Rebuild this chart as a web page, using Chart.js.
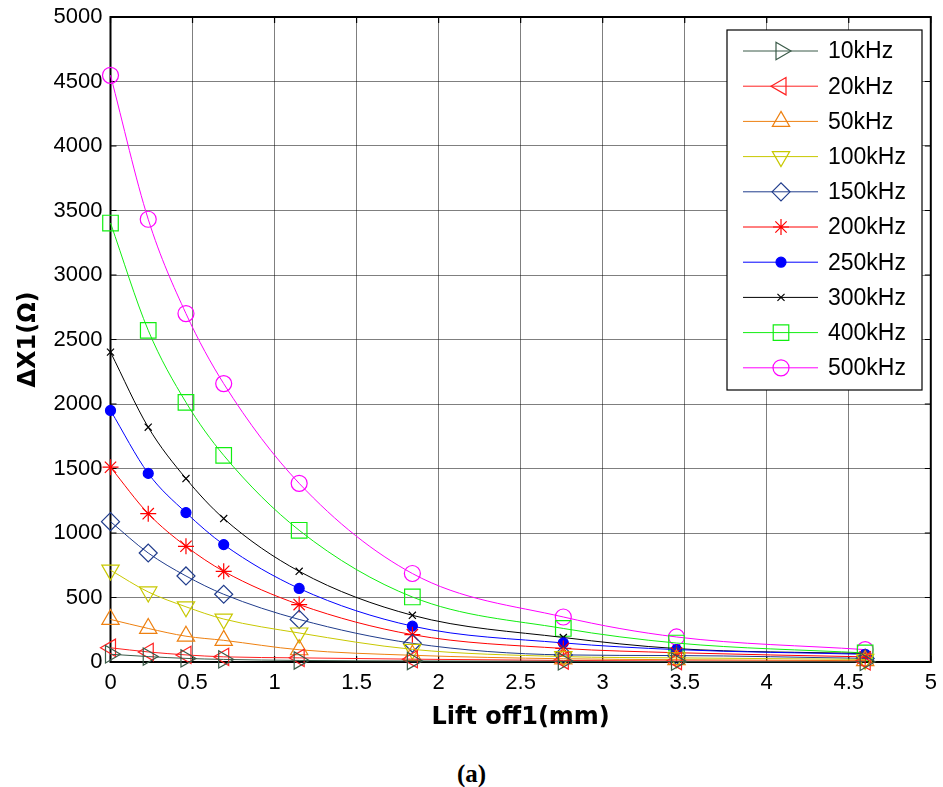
<!DOCTYPE html>
<html>
<head>
<meta charset="utf-8">
<script src="https://cdn.jsdelivr.net/npm/chart.js@4.4.0/dist/chart.umd.min.js"></script>
<style>
  html, body { margin: 0; padding: 0; background: #fff; }
  #wrap { position: relative; width: 943px; height: 787px; }
  #chart { position: absolute; left: 0; top: 0; }
  #caption {
    position: absolute; left: 0; top: 760px; width: 943px;
    text-align: center; line-height: 26px;
    font: bold 25px "Liberation Serif", "Times New Roman", serif;
  }
</style>
</head>
<body>
<div id="wrap">
  <canvas id="chart" width="943" height="745"></canvas>
  <div id="caption">(a)</div>
</div>
<script>
// ========================
// Données : ΔX1 selon le lift-off, par fréquence
// ========================

const liftOff = [0, 0.23, 0.46, 0.69, 1.15, 1.84, 2.76, 3.45, 4.6];
const freqLabels = ['10kHz', '20kHz', '50kHz', '100kHz', '150kHz', '200kHz', '250kHz', '300kHz', '400kHz', '500kHz'];

const dx10k  = [60, 42, 28, 20, 12, 8, 5, 3, 2];
const dx20k  = [110, 78, 55, 40, 32, 22, 12, 8, 5];
const dx50k  = [330, 260, 200, 168, 95, 52, 25, 18, 10];
const dx100k = [712, 543, 428, 333, 225, 98, 42, 32, 20];
const dx150k = [1088, 845, 667, 525, 330, 145, 55, 50, 28];
const dx200k = [1510, 1150, 897, 703, 445, 212, 105, 72, 40];
const dx250k = [1950, 1462, 1158, 910, 570, 278, 148, 96, 60];
const dx300k = [2402, 1820, 1422, 1112, 703, 362, 190, 104, 65];
const dx400k = [3403, 2571, 2013, 1602, 1021, 504, 260, 147, 70];
const dx500k = [4548, 3432, 2701, 2158, 1385, 686, 349, 194, 96];

const series = [dx10k, dx20k, dx50k, dx100k, dx150k, dx200k, dx250k, dx300k, dx400k, dx500k];

// style des marqueurs (façon MATLAB)
const styles = [
  { color: '#3a5a48', pointStyle: 'triangle', rotation: 90,  radius: 10 },
  { color: '#ff2020', pointStyle: 'triangle', rotation: 270, radius: 10 },
  { color: '#ee8010', pointStyle: 'triangle', rotation: 0,   radius: 10 },
  { color: '#c8c800', pointStyle: 'triangle', rotation: 180, radius: 10 },
  { color: '#203c8c', pointStyle: 'rectRot',  rotation: 0,   radius: 9 },
  { color: '#ff0000', pointStyle: 'star',     rotation: 0,   radius: 8 },
  { color: '#0000ff', pointStyle: 'circle',   rotation: 0,   radius: 5, filled: true },
  { color: '#000000', pointStyle: 'crossRot', rotation: 0,   radius: 5 },
  { color: '#11ee11', pointStyle: 'rect',     rotation: 0,   radius: 11 },
  { color: '#ff00ff', pointStyle: 'circle',   rotation: 0,   radius: 8 }
];

const datasets = series.map((vals, i) => ({
  label: freqLabels[i],
  data: liftOff.map((x, j) => ({ x: x, y: vals[j] })),
  borderColor: styles[i].color,
  borderWidth: 1,
  backgroundColor: styles[i].color,
  pointStyle: styles[i].pointStyle,
  pointRotation: styles[i].rotation,
  pointRadius: styles[i].radius,
  pointBorderWidth: 1.2,
  pointBorderColor: styles[i].color,
  pointBackgroundColor: styles[i].filled ? styles[i].color : 'rgba(0,0,0,0)',
  cubicInterpolationMode: 'monotone',
  clip: false
}));

// ========================
// Cadre + graduations intérieures
// ========================

const axesBox = {
  id: 'axesBox',
  beforeDatasetsDraw(chart) {
    const { ctx, chartArea: a, scales } = chart;
    ctx.save();
    ctx.strokeStyle = '#000';
    ctx.lineWidth = 1.2;
    ctx.beginPath();
    for (let v = 0; v <= 5; v += 0.5) {
      const px = scales.x.getPixelForValue(v);
      ctx.moveTo(px, a.bottom); ctx.lineTo(px, a.bottom - 6);
      ctx.moveTo(px, a.top); ctx.lineTo(px, a.top + 6);
    }
    for (let v = 0; v <= 5000; v += 500) {
      const py = scales.y.getPixelForValue(v);
      ctx.moveTo(a.left, py); ctx.lineTo(a.left + 6, py);
      ctx.moveTo(a.right, py); ctx.lineTo(a.right - 6, py);
    }
    ctx.stroke();
    ctx.lineWidth = 2;
    ctx.strokeRect(a.left, a.top, a.right - a.left, a.bottom - a.top);
    ctx.restore();
  }
};

// ========================
// Légende dans la zone du graphe
// ========================

const boxLegend = {
  id: 'boxLegend',
  afterDraw(chart) {
    const ctx = chart.ctx;
    const bx = 727, by = 30, bw = 195, bh = 360;
    ctx.save();
    ctx.fillStyle = '#fff';
    ctx.fillRect(bx, by, bw, bh);
    ctx.strokeStyle = '#000';
    ctx.lineWidth = 1.2;
    ctx.strokeRect(bx, by, bw, bh);

    ctx.font = '23px "Liberation Sans", Arial, sans-serif';
    ctx.textBaseline = 'middle';
    chart.data.datasets.forEach((ds, i) => {
      const y = 51 + i * 35.2;
      ctx.strokeStyle = ds.borderColor;
      ctx.lineWidth = 1;
      ctx.beginPath();
      ctx.moveTo(743, y);
      ctx.lineTo(818, y);
      ctx.stroke();

      ctx.fillStyle = ds.pointBackgroundColor;
      ctx.lineWidth = ds.pointBorderWidth;
      Chart.helpers.drawPoint(ctx, {
        pointStyle: ds.pointStyle,
        rotation: ds.pointRotation,
        radius: ds.pointRadius,
        borderWidth: ds.pointBorderWidth
      }, 781, y);

      ctx.fillStyle = '#000';
      ctx.fillText(ds.label, 828, y + 1);
    });
    ctx.restore();
  }
};

const tickFont = { family: '"Liberation Sans", Arial, sans-serif', size: 22 };
const titleFont = { family: '"DejaVu Sans", sans-serif', size: 24, weight: 'bold' };

new Chart(document.getElementById('chart').getContext('2d'), {
  type: 'line',
  data: { datasets: datasets },
  options: {
    responsive: false,
    animation: false,
    layout: { padding: { top: 17, right: 11, left: 0, bottom: 0 } },
    plugins: {
      legend: { display: false },
      tooltip: { enabled: false }
    },
    scales: {
      x: {
        type: 'linear',
        min: 0,
        max: 5,
        // hauteur fixe, pas de marge ajoutée pour les étiquettes aux bords
        afterFit(scale) { scale.height = 83; scale.paddingLeft = 0; scale.paddingRight = 0; },
        ticks: { stepSize: 0.5, color: '#000', font: tickFont, padding: 8, maxRotation: 0,
                 callback: v => String(v) },
        grid: { color: 'rgba(0,0,0,0.5)', lineWidth: 1, drawTicks: false },
        border: { display: false },
        title: { display: true, text: 'Lift off1(mm)', color: '#000', font: titleFont, padding: { top: 0, bottom: 12.6 } }
      },
      y: {
        min: 0,
        max: 5000,
        afterFit(scale) { scale.width = 110.5; scale.paddingTop = 0; scale.paddingBottom = 0; },
        ticks: { stepSize: 500, color: '#000', font: tickFont, padding: 8,
                 callback: v => String(v) },
        grid: { color: 'rgba(0,0,0,0.5)', lineWidth: 1, drawTicks: false },
        border: { display: false },
        title: { display: true, text: 'ΔX1(Ω)', color: '#000', font: titleFont, padding: { top: 14.6, bottom: 0 } }
      }
    }
  },
  plugins: [axesBox, boxLegend]
});
</script>
</body>
</html>
